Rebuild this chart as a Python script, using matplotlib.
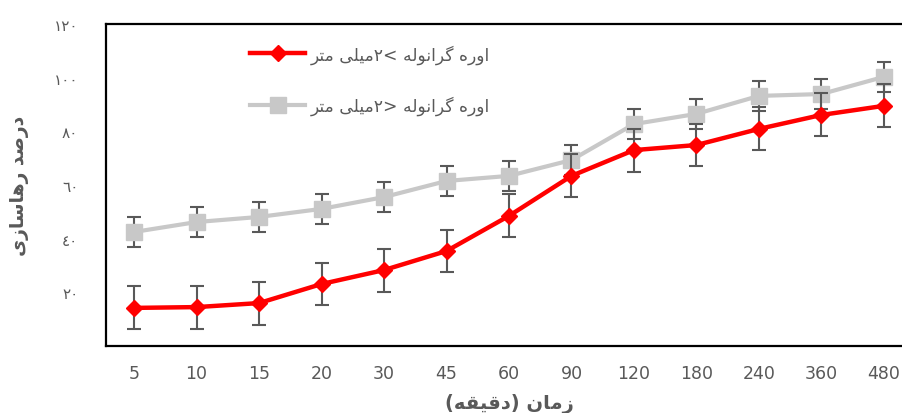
import matplotlib.pyplot as plt
import numpy as np

# داده ها
times = ['5', '10', '15', '20', '30', '45', '60', '90', '120', '180', '240', '360', '480']
small = [14.2, 14.5, 16.0, 23.1, 28.3, 35.4, 48.5, 63.4, 73.0, 74.9, 80.9, 86.1, 89.5]
big = [42.5, 46.2, 48.1, 51.1, 55.5, 61.5, 63.4, 69.3, 82.7, 86.5, 93.2, 93.9, 100.3]
small_err = [8] * 13
big_err = [5.6] * 13
yticks = [20, 40, 60, 80, 100, 120]
ylabels = ['٢٠', '٤٠', '٦٠', '٨٠', '١٠٠', '١٢٠']

# matplotlib does no arabic shaping, so use presentation forms and reverse
FORMS = {
    'ا': (0xFE8D, 0xFE8E), 'د': (0xFEA9, 0xFEAA), 'ر': (0xFEAD, 0xFEAE),
    'ز': (0xFEAF, 0xFEB0), 'و': (0xFEED, 0xFEEE),
    'س': (0xFEB1, 0xFEB2, 0xFEB3, 0xFEB4), 'ص': (0xFEB9, 0xFEBA, 0xFEBB, 0xFEBC),
    'ق': (0xFED5, 0xFED6, 0xFED7, 0xFED8), 'ل': (0xFEDD, 0xFEDE, 0xFEDF, 0xFEE0),
    'م': (0xFEE1, 0xFEE2, 0xFEE3, 0xFEE4), 'ن': (0xFEE5, 0xFEE6, 0xFEE7, 0xFEE8),
    'ه': (0xFEE9, 0xFEEA, 0xFEEB, 0xFEEC), 'ت': (0xFE95, 0xFE96, 0xFE97, 0xFE98),
    'ی': (0xFBFC, 0xFBFD, 0xFBFE, 0xFBFF), 'گ': (0xFB92, 0xFB93, 0xFB94, 0xFB95),
}
MIRROR = {'(': ')', ')': '(', '<': '>', '>': '<'}


def fa(s):
    out = []
    for i, c in enumerate(s):
        if c not in FORMS:
            out.append(c)
            continue
        prev = s[i - 1] if i > 0 else ''
        nxt = s[i + 1] if i + 1 < len(s) else ''
        jp = prev in FORMS and len(FORMS[prev]) == 4
        jn = len(FORMS[c]) == 4 and nxt in FORMS
        k = {(False, False): 0, (True, False): 1, (False, True): 2, (True, True): 3}[(jp, jn)]
        out.append(chr(FORMS[c][k]))
    return ''.join(MIRROR.get(c, c) for c in reversed(out))


plt.rcParams['font.family'] = ['DejaVu Sans']
grey = '#595959'

fig = plt.figure(figsize=(9.02, 4.14), dpi=100)
ax = fig.add_axes([106 / 902, 67 / 414, 806 / 902, 322 / 414])
x = np.arange(len(times))

ax.errorbar(x, big, yerr=big_err, fmt='none', ecolor=grey, elinewidth=1.5,
            capsize=5, capthick=1.5, zorder=2)
ax.plot(x, big, color='#C8C8C8', lw=3, marker='s', ms=11.5,
        label=fa('اوره گرانوله <۲میلی متر'), zorder=3)
ax.errorbar(x, small, yerr=small_err, fmt='none', ecolor=grey, elinewidth=1.5,
            capsize=5, capthick=1.5, zorder=4)
ax.plot(x, small, color='#FF0000', lw=3.2, marker='D', ms=8,
        label=fa('اوره گرانوله >۲میلی متر'), zorder=5)

ax.set_xlim(-0.45, 12.45)
ax.set_ylim(0, 120)
ax.set_xticks(x)
ax.set_xticklabels(times, fontsize=12.5, color=grey)
ax.set_yticks(yticks)
ax.set_yticklabels(ylabels, fontsize=11, color=grey)
ax.tick_params(axis='x', length=0, pad=13)
ax.tick_params(axis='y', length=0, pad=20)
for sp in ax.spines.values():
    sp.set_linewidth(1.6)
    sp.set_color('black')

ax.set_xlabel(fa('زمان (دقیقه)'), fontsize=14, fontweight='bold', color=grey)
ax.xaxis.set_label_coords(0.5, -0.145)
ax.set_ylabel(fa('درصد رهاسازی'), fontsize=13.5, fontweight='bold', color=grey)
ax.yaxis.set_label_coords(-0.095, 0.5)

h, l = ax.get_legend_handles_labels()
ax.legend(h[::-1], l[::-1], loc='upper left', bbox_to_anchor=(0.16, 0.985),
          frameon=False, fontsize=12.3, labelcolor=grey, handlelength=3.2,
          labelspacing=1.85, handletextpad=0.35)

plt.savefig('out.png', dpi=100)
